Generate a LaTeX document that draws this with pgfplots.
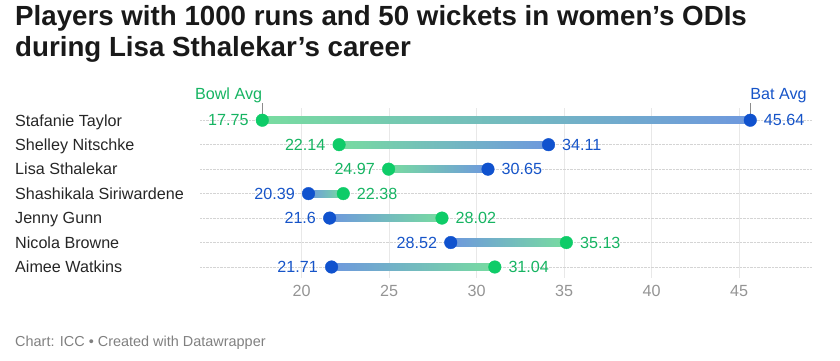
\documentclass[border=0pt]{standalone}
\usepackage{fontspec}
\setmainfont{Liberation Sans}
\usepackage{pgfplots}
\pgfplotsset{compat=1.18}
\definecolor{bowl}{RGB}{14,204,104}
\definecolor{bat}{RGB}{16,82,206}
\definecolor{bowltxt}{RGB}{22,180,98}
\definecolor{battxt}{RGB}{22,84,200}
\definecolor{bowlL}{RGB}{120,220,160}
\definecolor{batL}{RGB}{110,152,222}
\newcommand{\lab}{\fontsize{16.2}{18}\selectfont}
\begin{document}
\begin{tikzpicture}[x=1bp,y=1bp]
\useasboundingbox (0,0) rectangle (840,360);
\node[anchor=base west, inner sep=0, font=\bfseries\fontsize{27.8}{30}\selectfont, text=black!90] at (15,335) {Players with 1000 runs and 50 wickets in women's ODIs};
\node[anchor=base west, inner sep=0, font=\bfseries\fontsize{27.8}{30}\selectfont, text=black!90] at (15,304) {during Lisa Sthalekar's career};
\node[anchor=base west, inner sep=0, font=\fontsize{14.5}{16}\selectfont, text=black!50] at (15,14) {Chart: ICC • Created with Datawrapper};
\begin{axis}[
  at={(200bp,82bp)}, anchor=south west, scale only axis,
  width=612bp, height=170bp,
  xmin=14.19, xmax=49.17, ymin=-0.5, ymax=6.45, y dir=reverse,
  axis line style={draw=none}, major tick length=0,
  xtick={20,25,30,35,40,45}, ytick={0,1,2,3,4,5,6},
  yticklabels={Stafanie Taylor, Shelley Nitschke, Lisa Sthalekar, Shashikala Siriwardene, Jenny Gunn, Nicola Browne, Aimee Watkins},
  xmajorgrids, ymajorgrids,
  x grid style={color=black!9, line width=0.9bp},
  y grid style={color=black!17, densely dotted, line width=0.5bp},
  /pgf/number format/assume math mode=true,
  xticklabel style={text=black!42, font=\lab, inner sep=0, anchor=center, yshift=-13bp},
  yticklabel style={anchor=base west, inner sep=0, xshift=-185bp, yshift=-5.8bp, font=\lab, text=black!85},
  clip=false,
]
% bars
\addplot[draw=none, left color=bowlL, right color=batL] coordinates {(17.75,-0.145) (45.64,-0.145) (45.64,0.145) (17.75,0.145)};
\addplot[draw=none, left color=bowlL, right color=batL] coordinates {(22.14,0.855) (34.11,0.855) (34.11,1.145) (22.14,1.145)};
\addplot[draw=none, left color=bowlL, right color=batL] coordinates {(24.97,1.855) (30.65,1.855) (30.65,2.145) (24.97,2.145)};
\addplot[draw=none, left color=batL, right color=bowlL] coordinates {(20.39,2.855) (22.38,2.855) (22.38,3.145) (20.39,3.145)};
\addplot[draw=none, left color=batL, right color=bowlL] coordinates {(21.6,3.855) (28.02,3.855) (28.02,4.145) (21.6,4.145)};
\addplot[draw=none, left color=batL, right color=bowlL] coordinates {(28.52,4.855) (35.13,4.855) (35.13,5.145) (28.52,5.145)};
\addplot[draw=none, left color=batL, right color=bowlL] coordinates {(21.71,5.855) (31.04,5.855) (31.04,6.145) (21.71,6.145)};
% bowl avg, left side
\addplot[only marks, mark=*, mark size=6.3bp, color=bowl, point meta=explicit symbolic,
  nodes near coords, nodes near coords style={anchor=east, xshift=-13.5bp, inner sep=0, text=bowltxt, font=\lab}]
  coordinates {(17.75,0) [17.75] (22.14,1) [22.14] (24.97,2) [24.97]};
% bowl avg, right side
\addplot[only marks, mark=*, mark size=6.3bp, color=bowl, point meta=explicit symbolic,
  nodes near coords, nodes near coords style={anchor=west, xshift=13.5bp, inner sep=0, text=bowltxt, font=\lab}]
  coordinates {(22.38,3) [22.38] (28.02,4) [28.02] (35.13,5) [35.13] (31.04,6) [31.04]};
% bat avg, right side
\addplot[only marks, mark=*, mark size=6.3bp, color=bat, point meta=explicit symbolic,
  nodes near coords, nodes near coords style={anchor=west, xshift=13.5bp, inner sep=0, text=battxt, font=\lab}]
  coordinates {(45.64,0) [45.64] (34.11,1) [34.11] (30.65,2) [30.65]};
% bat avg, left side
\addplot[only marks, mark=*, mark size=6.3bp, color=bat, point meta=explicit symbolic,
  nodes near coords, nodes near coords style={anchor=east, xshift=-13.5bp, inner sep=0, text=battxt, font=\lab}]
  coordinates {(20.39,3) [20.39] (21.6,4) [21.6] (28.52,5) [28.52] (21.71,6) [21.71]};
% header annotations
\draw[black!45, line width=0.6bp] ([yshift=6bp]axis cs:17.75,0) -- ([yshift=17bp]axis cs:17.75,0);
\draw[black!45, line width=0.6bp] ([yshift=6bp]axis cs:45.64,0) -- ([yshift=17bp]axis cs:45.64,0);
\node[anchor=base east, inner sep=0, text=bowltxt, font=\lab] at ([yshift=21bp]axis cs:17.75,0) {Bowl Avg};
\node[anchor=base west, inner sep=0, text=battxt, font=\lab] at ([yshift=21bp]axis cs:45.64,0) {Bat Avg};
\end{axis}
\end{tikzpicture}
\end{document}
